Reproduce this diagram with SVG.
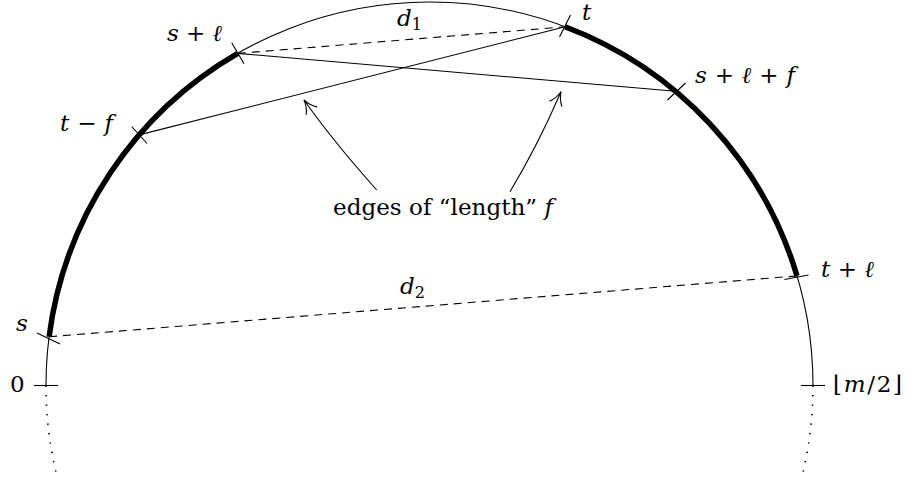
<svg xmlns="http://www.w3.org/2000/svg" width="907" height="489" viewBox="0 0 907 489">
<defs>
<marker id="to" markerUnits="userSpaceOnUse" markerWidth="30" markerHeight="30" refX="0" refY="0" viewBox="-15 -15 30 30" orient="auto" overflow="visible">
<path d="M -13 -6.5 C -9 -3 -4 -0.8 0 0 C -4 0.8 -9 3 -13 6.5" fill="none" stroke="#000" stroke-width="1.1" stroke-linecap="round"/>
</marker>
<style>
.thin{fill:none;stroke:#000;stroke-width:1.1}
.thick{fill:none;stroke:#000;stroke-width:5.5}
.dash{fill:none;stroke:#000;stroke-width:1.1;stroke-dasharray:8 6}
.dot{fill:none;stroke:#000;stroke-width:1.6;stroke-dasharray:1.4 8.1}
.tick{fill:none;stroke:#000;stroke-width:1.1}
.lbl{font-family:"DejaVu Serif",serif;font-size:23px;fill:#000}
.m{font-style:italic}
.sub{font-size:16px}
</style>
</defs>
<g id="circle">
<path class="thin" d="M 46 385.5 A 383.5 383.5 0 0 1 813 385.5"/>
<path class="dot" d="M 46 385.5 A 383.5 383.5 0 0 0 57.4 478.3"/>
<path class="dot" d="M 813 385.5 A 383.5 383.5 0 0 1 801.6 478.3"/>
<path class="thick" d="M 49.1 336.8 A 383.5 383.5 0 0 1 237.75 53.4"/>
<path class="thick" d="M 565.1 26.8 A 383.5 383.5 0 0 1 797 275.9"/>
</g>
<g id="connectors">
<path class="thin" d="M 237.75 53.4 L 675.5 91.3"/>
<path class="thin" d="M 139.2 134.9 L 565.1 26.8"/>
<path class="dash" d="M 237.75 53.4 L 565.1 26.8"/>
<path class="dash" d="M 49.1 336.8 L 797 275.9"/>
<path class="thin" d="M 376.7 190 Q 333 141 304 100" marker-end="url(#to)"/>
<path class="thin" d="M 510 191.7 Q 538 145 561 91.7" marker-end="url(#to)"/>
</g>
<g id="ticks">
<path class="tick" d="M 34 385.5 L 58 385.5"/>
<path class="tick" d="M 801 385.5 L 825 385.5"/>
<path class="tick" d="M 37 333 L 60 344"/>
<path class="tick" d="M 231.7 42.7 L 244 63.8"/>
<path class="tick" d="M 131.7 126.5 L 147 143.5"/>
<path class="tick" d="M 570.5 15 L 559.5 37"/>
<path class="tick" d="M 685.5 83 L 667.5 100"/>
<path class="tick" d="M 784.5 279.5 L 808.5 275"/>
</g>
<g id="labels">
<text id="lbl-0" class="lbl" x="10" y="392">0</text>
<text id="lbl-m2" class="lbl" x="833" y="392" textLength="69" lengthAdjust="spacing">⌊<tspan class="m">m</tspan>/2⌋</text>
<text id="lbl-s" class="lbl m" x="16" y="331">s</text>
<text id="lbl-tf" class="lbl" x="60" y="131" textLength="53" lengthAdjust="spacing"><tspan class="m">t</tspan> − <tspan class="m">f</tspan></text>
<text id="lbl-sl" class="lbl" x="167" y="41" textLength="55" lengthAdjust="spacing"><tspan class="m">s</tspan> + <tspan class="m">ℓ</tspan></text>
<text id="lbl-d1" class="lbl" x="397" y="26"><tspan class="m">d</tspan><tspan class="sub" dy="4">1</tspan></text>
<text id="lbl-t" class="lbl m" x="582" y="20">t</text>
<text id="lbl-slf" class="lbl" x="695" y="83" textLength="100" lengthAdjust="spacing"><tspan class="m">s</tspan> + <tspan class="m">ℓ</tspan> + <tspan class="m">f</tspan></text>
<text id="lbl-tl" class="lbl" x="821" y="277" textLength="53" lengthAdjust="spacing"><tspan class="m">t</tspan> + <tspan class="m">ℓ</tspan></text>
<text id="lbl-d2" class="lbl" x="400" y="294"><tspan class="m">d</tspan><tspan class="sub" dy="4">2</tspan></text>
<text id="lbl-edges" class="lbl" x="333" y="215" textLength="220" lengthAdjust="spacing">edges of “length” <tspan class="m">f</tspan></text>
</g>
</svg>
